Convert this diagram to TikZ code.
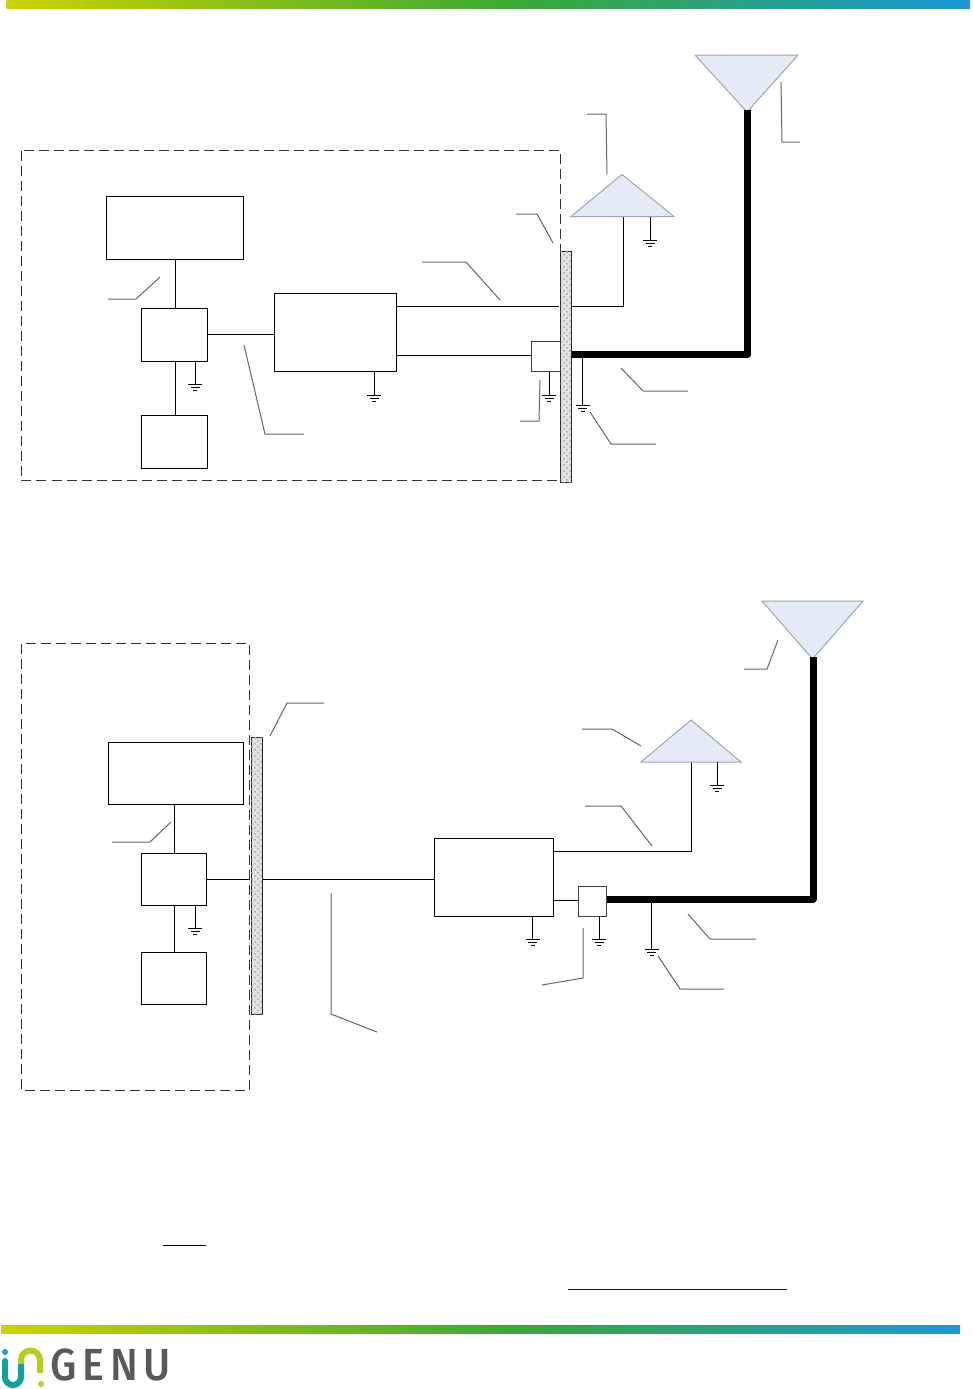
\documentclass[tikz,border=0pt]{standalone}
\usepackage{fontspec}
\usetikzlibrary{patterns}
\setsansfont{Fira Sans}
\newfontfamily\logofont[LetterSpace=14]{Fira Sans Medium}
\definecolor{barA}{HTML}{CBD300}
\definecolor{barB}{HTML}{3AA935}
\definecolor{barC}{HTML}{1B98D8}
\definecolor{antfill}{HTML}{E4EBF6}
\definecolor{antline}{HTML}{9AA7B8}
\definecolor{wallfill}{HTML}{E2E2E2}
\definecolor{leadgray}{HTML}{666666}
\definecolor{logogray}{HTML}{58595B}
\definecolor{logoteal}{HTML}{139F9A}
\definecolor{logolime}{HTML}{B5CE1F}
\definecolor{logoblue}{HTML}{1B98D8}
\pgfdeclarehorizontalshading{barshade}{100bp}{color(0bp)=(barA); color(25bp)=(barA); color(51.5bp)=(barB); color(75bp)=(barC); color(100bp)=(barC)}
\tikzset{
 x=0.5pt,y=-0.5pt,
 px/.style={line width=#1*0.5pt},
 boxn/.style={draw=black,px=0.9,fill=white},
 smallbox/.style={draw=black!75,px=1,fill=white},
 wire/.style={draw=black,px=0.9},
 thick wire/.style={draw=black,px=7.5,line join=round},
 lead/.style={draw=leadgray,px=1},
 dash box/.style={draw=black!80,px=1,dash pattern=on 5pt off 2.5pt},
 wallbox/.style={draw=black!85,px=1,fill=wallfill,postaction={pattern=crosshatch dots,pattern color=black!35}},
 antenna/.style={draw=antline,px=1,fill=antfill},
 bar/.style={shading=barshade},
 gnd/.pic={\draw[px=0.9] (-7,0)--(7,0) (-4.5,3)--(4.5,3) (-2,6)--(2,6);}
}
\begin{document}
\begin{tikzpicture}
\useasboundingbox (0,0) rectangle (973,1389);
\fill[white] (0,0) rectangle (973,1389);
% gradient bars
\path[bar] (6.5,0) rectangle (970,8.5);
\path[bar] (1,1325) rectangle (960,1333);

% ===== top diagram =====
\draw[dash box] (21.5,150.5) rectangle (560,480.5);
\coordinate (a1b) at (175,259); \coordinate (b1t) at (175,308.5);
\coordinate (b1b) at (175,361.5); \coordinate (c1t) at (175,415.5);
\coordinate (b1r) at (207.5,334); \coordinate (d1l) at (274.5,334);
\coordinate (d1r) at (396.5,306); \coordinate (w1l) at (559,306);
\coordinate (w1r) at (571.5,306); \coordinate (t1c) at (623.5,306);
\coordinate (t1b) at (623.5,216.5);
\coordinate (d1s) at (396.5,355); \coordinate (e1l) at (531.5,355);
\draw[wire] (a1b)--(b1t) (b1b)--(c1t) (b1r)--(d1l) (d1r)--(w1l) (w1r)--(t1c)--(t1b) (d1s)--(e1l);
\path[boxn] (106.5,196.5) rectangle (243.5,259);
\path[boxn] (141.5,308.5) rectangle (207.5,361.5);
\path[boxn] (141.5,415.5) rectangle (207.5,468.5);
\path[boxn] (274.5,293.5) rectangle (396.5,371.5);
% wall
\path[wallbox] (560.5,251.5) rectangle (571.5,482);
% antennas
\path[antenna] (571,216.5)--(674,216.5)--(622,174.5)--cycle;
\path[antenna] (695,55)--(798,55)--(747,112)--cycle;
% small box
\path[smallbox] (531.5,341.5) rectangle (560,371.5);
% thick feeder
\coordinate (th1a) at (572,354.5); \coordinate (th1c) at (747.5,354.5); \coordinate (th1b) at (747.5,110);
\draw[thick wire] (th1a)--(th1c)--(th1b);
% grounds
\foreach \x/\ya/\yb in {195/361.5/384, 374/371.5/395, 549/371.5/395, 582.5/358/405, 650/216.5/240}{
  \draw[wire] (\x,\ya)--(\x,\yb);
  \pic at (\x,\yb) {gnd};
}
% leaders
\draw[lead] (160,277)--(136,299)--(108,299);
\draw[lead] (244,345)--(265,434)--(304,434);
\draw[lead] (500,300)--(466,262)--(422,262);
\draw[lead] (553,243)--(537,214)--(516,214);
\draw[lead] (540,380)--(539,421)--(520,421);
\draw[lead] (621,368)--(643,391)--(688,391);
\draw[lead] (590,412)--(611,444)--(656,444);
\draw[lead] (607,174)--(606,114)--(587,114);
\draw[lead] (781,82)--(782,142)--(800,142);

% ===== bottom diagram =====
\draw[dash box] (21.5,643.5) rectangle (249.5,1090);
\coordinate (a2b) at (174,804.5); \coordinate (b2t) at (174,853.5);
\coordinate (b2b) at (174,905.5); \coordinate (c2t) at (174,952.5);
\coordinate (b2r) at (206.5,879); \coordinate (w2l) at (250,879);
\coordinate (w2r) at (262.5,879); \coordinate (d2l) at (434.5,879);
\coordinate (d2r) at (553.5,851); \coordinate (t2c) at (691.5,851); \coordinate (t2b) at (691.5,762);
\coordinate (d2s) at (553.5,900.5); \coordinate (e2l) at (578.5,900.5);
\draw[wire] (a2b)--(b2t) (b2b)--(c2t) (b2r)--(w2l) (w2r)--(d2l) (d2r)--(t2c)--(t2b) (d2s)--(e2l);
\path[boxn] (108,742.5) rectangle (243,804.5);
\path[boxn] (141.5,853.5) rectangle (206.5,905.5);
\path[boxn] (141.5,952.5) rectangle (206.5,1004.5);
\path[boxn] (434.5,838.5) rectangle (553.5,916);
\path[wallbox] (251,737) rectangle (262.5,1014.5);
\path[antenna] (641,762)--(741,762)--(691,720)--cycle;
\path[antenna] (762,601)--(863,601)--(812.5,659)--cycle;
\path[smallbox] (578.5,886) rectangle (606.5,916);
\coordinate (th2a) at (606.5,899); \coordinate (th2c) at (813,899); \coordinate (th2b) at (813,657);
\draw[thick wire,px=7] (th2a)--(th2c)--(th2b);
\foreach \x/\ya/\yb in {195/905.5/928, 532.5/916/939, 599/916/939, 651.5/902/949, 717/762/785}{
  \draw[wire] (\x,\ya)--(\x,\yb);
  \pic at (\x,\yb) {gnd};
}
\draw[lead] (171,822)--(150,842)--(112,842);
\draw[lead] (331,893)--(331,1014)--(377,1032);
\draw[lead] (270,736)--(287,703)--(324,703);
\draw[lead] (652,846)--(621,806)--(585,806);
\draw[lead] (641,746)--(612,729)--(582,729);
\draw[lead] (778,640)--(767,669)--(744,669);
\draw[lead] (688,914)--(710,939)--(756,939);
\draw[lead] (583,928)--(583,978)--(542,985);
\draw[lead] (658,956)--(680,989)--(724,989);

% link underlines
\draw[px=1] (163,1245)--(206,1245);
\draw[px=1,draw=blue!80!black] (568,1289)--(787,1289);

% logo
\fill[logoblue] (5,1352) circle [radius=3];
\draw[logoteal,px=6,line cap=round] (5,1361)--(5,1377) arc[start angle=180,end angle=360,x radius=8,y radius=-8]--(21,1364);
\draw[logolime,px=6] (21,1364)--(21,1360) arc[start angle=180,end angle=0,x radius=9.5,y radius=-9.5]--(40,1373);
\fill[logolime] (41,1384) circle [radius=3];
\node[text=logogray,anchor=west,inner sep=0pt,xscale=0.92,transform shape,font=\logofont\fontsize{22.5}{22.5}\selectfont] (logo) at (50,1364.5) {GENU};
\end{tikzpicture}
\end{document}
